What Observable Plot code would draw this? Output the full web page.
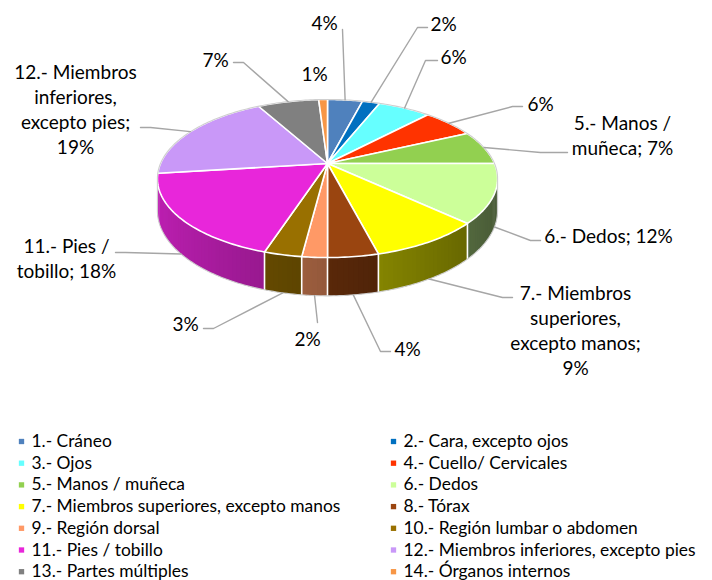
<!DOCTYPE html>
<html>
<head>
<meta charset="utf-8">
<script src="https://cdn.jsdelivr.net/npm/d3@7"></script>
<script src="https://cdn.jsdelivr.net/npm/@observablehq/plot@0.6"></script>
<style>
  body { margin: 0; background: #ffffff; }
  #chart svg { display: block; }
</style>
</head>
<body>
<div id="chart"></div>
<script>
// ---------- DATA ----------
const categories = [
  "1.- Cráneo", "2.- Cara, excepto ojos", "3.- Ojos", "4.- Cuello/ Cervicales",
  "5.- Manos / muñeca", "6.- Dedos", "7.- Miembros superiores, excepto manos", "8.- Tórax",
  "9.- Región dorsal", "10.- Región lumbar o abdomen", "11.- Pies / tobillo",
  "12.- Miembros inferiores, excepto pies", "13.- Partes múltiples", "14.- Órganos internos"
];
const values = [4, 2, 6, 6, 7, 12, 9, 4, 2, 3, 18, 19, 7, 1];
const colors = [
  "#4F81BD", "#0070C0", "#66FFFF", "#FF3300", "#92D050", "#CCFF99", "#FFFF00",
  "#9A4510", "#FF9966", "#997000", "#E826DA", "#C998F8", "#808080", "#F79646"
];
const labelTexts = [
  "4%", "2%", "6%", "6%", "5.- Manos /\nmuñeca; 7%", "6.- Dedos; 12%",
  "7.- Miembros\nsuperiores,\nexcepto manos;\n9%", "4%", "2%", "3%",
  "11.- Pies /\ntobillo; 18%", "12.- Miembros\ninferiores,\nexcepto pies;\n19%", "7%", "1%"
];

// ---------- LAYOUT (label placement, leader elbows) ----------
const labelLayout = [
  {at: [324, 21],  elbow: [342, 29],  end: [342, 29]},
  {at: [443, 22],  elbow: [417, 27],  end: [427, 27]},
  {at: [453, 55],  elbow: [425, 60],  end: [437, 60]},
  {at: [540, 102], elbow: [512, 106], end: [522, 106]},
  {at: [622, 134], elbow: [540, 152], end: [567, 152]},
  {at: [608, 234], elbow: [530, 240], end: [540, 240]},
  {at: [575, 329], elbow: [502, 297], end: [512, 297]},
  {at: [407, 347], elbow: [380, 351], end: [390, 351]},
  {at: [307, 337], elbow: [317, 322], end: [317, 322]},
  {at: [185, 322], elbow: [213, 328], end: [203, 328]},
  {at: [66, 257],  elbow: [125, 252], end: [115, 252]},
  {at: [75, 108],  elbow: [150, 127], end: [140, 127]},
  {at: [215, 58],  elbow: [243, 62],  end: [233, 62]},
  {at: [314, 72],  elbow: null,       end: null}
];

// ---------- 3D PIE GEOMETRY ----------
const CX = 327, CY = 163, RX = 167, RY = 76.2, K = 0.19, DEPTH = 31;
const TMIN = Math.acos(-K) * 180 / Math.PI;   // first visible wall angle
const TMAX = 360 - TMIN;                       // last visible wall angle
function proj(theta, r = 1, drop = 0) {
  const t = theta * Math.PI / 180;
  const d = r * Math.cos(t), lat = r * Math.sin(t);
  const s = 1 / (1 + K * d);
  return [CX + RX * lat * s, CY - RY * d * s + drop * s];
}
function arcPts(a0, a1, drop = 0, step = 1) {
  const n = Math.max(2, Math.ceil((a1 - a0) / step));
  return d3.range(n + 1).map(j => proj(a0 + (a1 - a0) * j / n, 1, drop));
}
function shade(color, theta) {
  const f = 0.58 + 0.24 * Math.cos((theta - 270) * Math.PI / 180);
  const c = d3.rgb(color);
  return d3.rgb(c.r * f, c.g * f, c.b * f).formatHex();
}

const arcs = d3.pie().sort(null).value(d => d)(values);
const slices = arcs.map((a, i) => ({
  i, a0: a.startAngle * 180 / Math.PI, a1: a.endAngle * 180 / Math.PI, color: colors[i]
}));

const poly = (coords, props) => ({type: "Feature", properties: props, geometry: {type: "Polygon", coordinates: [coords]}});
const line = (coords, props) => ({type: "Feature", properties: props, geometry: {type: "LineString", coordinates: coords}});

// wall strips (front side), shaded in small overlapping steps (no seams)
const wallStrips = [];
slices.forEach(s => {
  const lo = Math.max(s.a0, TMIN), hi = Math.min(s.a1, TMAX);
  if (hi <= lo) return;
  const n = Math.max(1, Math.ceil((hi - lo) / 1.5));
  for (let j = 0; j < n; j++) {
    const t0 = lo + (hi - lo) * j / n;
    const t1 = Math.min(hi, lo + (hi - lo) * (j + 1) / n + 0.8);
    const fill = shade(s.color, t0 + (hi - lo) / n / 2);
    wallStrips.push(poly([proj(t0), ...arcPts(t0, t1, 0, 0.5), ...arcPts(t0, t1, DEPTH, 0.5).reverse(), proj(t0)], {fill}));
  }
});
const wallDividers = slices
  .map(s => s.a0)
  .filter(b => b > TMIN && b < TMAX)
  .map(b => line([proj(b), proj(b, 1, DEPTH)], {}));

const topFaces = slices.map(s => {
  const c = proj(0, 0);
  return poly([c, ...arcPts(s.a0, s.a1), c], {fill: s.color});
});

const silhouette = line([
  ...arcPts(TMAX, 360 + TMIN),
  proj(TMIN, 1, DEPTH),
  ...arcPts(TMIN, TMAX, DEPTH),
  proj(TMAX)
], {});

// leader lines
const leaders = [];
slices.forEach((s, i) => {
  const L = labelLayout[i];
  if (!L.elbow) return;
  const mid = (s.a0 + s.a1) / 2;
  const front = mid > TMIN && mid < TMAX;
  const start = proj(mid, 1, front ? DEPTH : 0);
  leaders.push(line([start, L.elbow, L.end], {}));
});

const labels = labelTexts.map((t, i) => ({text: t, x: labelLayout[i].at[0], y: labelLayout[i].at[1]}));

// legend entries (two columns)
const legend = categories.map((c, i) => ({
  name: c, color: colors[i],
  col: i % 2, row: Math.floor(i / 2)
}));
const legX = [21, 393], legTextX = [31, 403], legY0 = 441, legDY = 21.7;

const chart = Plot.plot({
  width: 712,
  height: 580,
  margin: 0,
  projection: d3.geoIdentity(),
  color: {type: "identity"},
  style: {fontFamily: "Lato, 'Open Sans', sans-serif", background: "#ffffff", overflow: "visible"},
  marks: [
    Plot.geo(wallStrips, {fill: d => d.properties.fill}),
    Plot.geo(wallDividers, {stroke: "#ffffff", strokeWidth: 1.6}),
    Plot.geo(topFaces, {fill: d => d.properties.fill, stroke: "#ffffff", strokeWidth: 1.6, strokeLinejoin: "round"}),
    Plot.geo([silhouette], {stroke: "#cfcfcf", strokeWidth: 1.1, fill: "none"}),
    Plot.geo(leaders, {stroke: "#a6a6a6", strokeWidth: 1.4, fill: "none"}),
    Plot.text(labels, {
      x: "x", y: "y", text: "text", fontSize: 19, lineHeight: 25 / 19,
      textAnchor: "middle", lineAnchor: "middle", fill: "#000000"
    }),
    Plot.dot(legend, {
      x: d => legX[d.col], y: d => legY0 + d.row * legDY,
      symbol: "square", r: 3, fill: "color", stroke: null
    }),
    Plot.text(legend, {
      x: d => legTextX[d.col], y: d => legY0 + d.row * legDY, text: "name",
      fontSize: 17.4, textAnchor: "start", lineAnchor: "middle", fill: "#000000"
    })
  ]
});
document.getElementById("chart").appendChild(chart);
</script>
</body>
</html>
